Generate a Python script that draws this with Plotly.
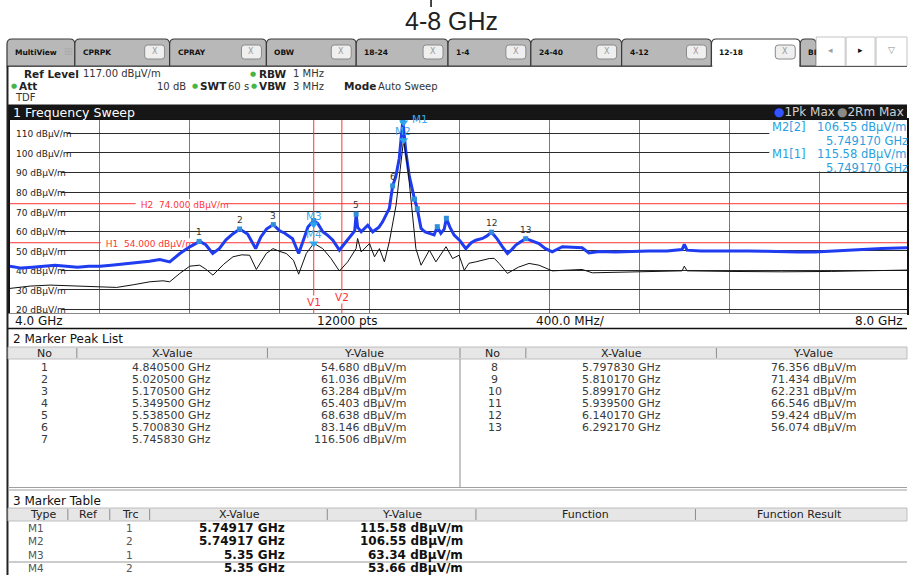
import plotly.graph_objects as go

W, H = 909, 575
FONT = "DejaVu Sans"

# ---------------- data ----------------
x_start, x_stop, x_div = 4.0, 8.0, 0.4
ref_level = 117.0
y_ticks = [20, 30, 40, 50, 60, 70, 80, 90, 100, 110]

pk_freq = [4.000, 4.050, 4.100, 4.150, 4.200, 4.250, 4.300, 4.350, 4.400, 4.450,
           4.500, 4.533, 4.580, 4.620, 4.666, 4.710, 4.755, 4.799, 4.843, 4.870,
           4.901, 4.930, 4.960, 4.990, 5.021, 5.056, 5.092, 5.115, 5.140, 5.170,
           5.200, 5.220, 5.256, 5.283, 5.309, 5.324, 5.350, 5.368, 5.390, 5.410,
           5.435, 5.464, 5.490, 5.516, 5.532, 5.5385, 5.545, 5.561, 5.590, 5.612,
           5.640, 5.656, 5.686, 5.70083, 5.715, 5.730, 5.74583, 5.760, 5.775, 5.79783,
           5.81017, 5.827, 5.845, 5.864, 5.885, 5.89917, 5.915, 5.930, 5.9395, 5.955,
           5.974, 6.000, 6.026, 6.050, 6.070, 6.100, 6.120, 6.14017, 6.165, 6.188,
           6.211, 6.230, 6.248, 6.270, 6.29217, 6.320, 6.351, 6.380, 6.410, 6.455,
           6.500, 6.543, 6.573, 6.620, 6.691, 6.760, 6.839, 6.920, 6.987, 6.997,
           7.009, 7.070, 7.135, 7.210, 7.283, 7.360, 7.430, 7.500, 7.578, 7.650,
           7.726, 7.800, 7.874, 7.987]
pk_val = [42.0, 41.0, 41.5, 42.0, 42.5, 42.0, 41.5, 42.0, 42.0, 42.5,
          43.0, 43.4, 44.0, 44.5, 45.4, 44.2, 48.5, 51.9, 54.7, 53.0,
          48.5, 51.0, 55.5, 58.5, 61.0, 58.5, 51.0, 57.0, 61.0, 63.3,
          60.0, 59.0, 56.0, 48.5, 57.0, 62.0, 65.4, 63.9, 59.6, 58.0,
          55.3, 50.2, 54.0, 57.9, 60.0, 68.6, 62.0, 59.6, 63.0, 59.6,
          62.0, 64.7, 71.6, 83.1, 88.0, 97.2, 116.5, 100.0, 88.0, 76.4,
          71.4, 61.3, 59.5, 58.8, 58.0, 62.2, 58.8, 61.0, 66.5, 62.0,
          57.9, 55.0, 51.0, 54.0, 55.3, 56.2, 57.5, 59.4, 56.0, 52.0,
          48.5, 50.5, 52.8, 54.5, 56.1, 55.0, 53.6, 51.0, 49.3, 52.0,
          51.5, 51.4, 48.8, 49.5, 49.3, 49.6, 49.8, 49.8, 50.5, 53.2,
          50.2, 49.8, 49.8, 50.0, 49.8, 49.6, 49.3, 49.2, 49.3, 49.8,
          50.2, 50.5, 51.0, 51.4]

rm_freq = [4.000, 4.090, 4.178, 4.300, 4.400, 4.474, 4.550, 4.622, 4.680, 4.710,
           4.755, 4.799, 4.843, 4.870, 4.902, 4.950, 4.991, 5.030, 5.065, 5.095,
           5.139, 5.169, 5.200, 5.228, 5.260, 5.283, 5.317, 5.350, 5.390, 5.427,
           5.464, 5.501, 5.538, 5.545, 5.561, 5.598, 5.620, 5.642, 5.664, 5.686,
           5.716, 5.738, 5.74917, 5.767, 5.789, 5.804, 5.827, 5.864, 5.893, 5.938,
           5.967, 5.996, 6.019, 6.040, 6.070, 6.100, 6.130, 6.152, 6.174, 6.211,
           6.260, 6.307, 6.351, 6.410, 6.480, 6.543, 6.588, 6.700, 6.839, 6.987,
           6.997, 7.009, 7.200, 7.430, 7.650, 7.889, 7.987]
rm_val = [30.6, 31.8, 32.3, 31.8, 31.4, 31.1, 32.5, 34.0, 34.5, 34.0,
          38.3, 42.0, 42.5, 40.5, 37.4, 43.0, 46.8, 47.8, 47.6, 40.3,
          48.5, 51.0, 49.5, 48.5, 45.0, 37.9, 48.5, 53.7, 51.0, 45.9,
          39.5, 44.2, 51.0, 56.2, 49.3, 53.6, 46.8, 51.0, 44.2, 54.5,
          73.3, 93.7, 106.55, 93.7, 68.1, 51.0, 42.5, 50.2, 44.2, 52.0,
          45.9, 47.6, 39.9, 43.5, 44.2, 45.0, 45.9, 46.0, 43.4, 38.3,
          41.5, 43.4, 42.5, 39.6, 40.0, 40.3, 38.6, 38.9, 39.1, 39.6,
          42.0, 39.6, 39.3, 39.1, 39.3, 40.0, 40.0]

peak_no = [1, 2, 3, 4, 5, 6, 7, 8, 9, 10, 11, 12, 13]
peak_freq = [4.840500, 5.020500, 5.170500, 5.349500, 5.538500, 5.700830, 5.745830,
             5.797830, 5.810170, 5.899170, 5.939500, 6.140170, 6.292170]
peak_val = [54.680, 61.036, 63.284, 65.403, 68.638, 83.146, 116.506,
            76.356, 71.434, 62.231, 66.546, 59.424, 56.074]
peak_label_shown = [1, 2, 3, 5, 6, 12, 13]

mk_name = ["M1", "M2", "M3", "M4"]
mk_trace = [1, 2, 1, 2]
mk_freq = [5.74917, 5.74917, 5.35, 5.35]
mk_val = [115.58, 106.55, 63.34, 53.66]

limit_names = ["H1", "H2"]
limit_vals = [54.0, 74.0]
vline_names = ["V1", "V2"]
vline_freqs = [5.35, 5.475]

tab_names = ["MultiView", "CPRPK", "CPRAY", "OBW", "18-24", "1-4", "24-40", "4-12", "12-18", "BI"]
active_tab = "12-18"

# ---------------- helpers ----------------
PX_PER_GHZ = 225.5
X0PX = 10.0


def X(p):
    return p / W


def Y(p):
    return 1 - p / H


def f_of_px(p):
    return x_start + (p - X0PX) / PX_PER_GHZ


shapes = []
ann = []


def rect(x0, y0, x1, y1, fill="rgba(0,0,0,0)", line="rgba(0,0,0,0)", lw=0):
    shapes.append(dict(type="rect", xref="paper", yref="paper", x0=X(x0), x1=X(x1),
                       y0=Y(y1), y1=Y(y0), fillcolor=fill,
                       line=dict(color=line, width=lw), layer="above"))


def seg(x0, y0, x1, y1, color, lw=1):
    shapes.append(dict(type="line", xref="paper", yref="paper", x0=X(x0), x1=X(x1),
                       y0=Y(y0), y1=Y(y1), line=dict(color=color, width=lw), layer="above"))


def rpath(xl, yt, xr, yb, r, fill, line, lw=1, bottom_round=False):
    if bottom_round:
        p = (f"M {X(xl)},{Y(yb - r)} L {X(xl)},{Y(yt + r)} Q {X(xl)},{Y(yt)} {X(xl + r)},{Y(yt)} "
             f"L {X(xr - r)},{Y(yt)} Q {X(xr)},{Y(yt)} {X(xr)},{Y(yt + r)} L {X(xr)},{Y(yb - r)} "
             f"Q {X(xr)},{Y(yb)} {X(xr - r)},{Y(yb)} L {X(xl + r)},{Y(yb)} Q {X(xl)},{Y(yb)} {X(xl)},{Y(yb - r)} Z")
    else:
        p = (f"M {X(xl)},{Y(yb)} L {X(xl)},{Y(yt + r)} Q {X(xl)},{Y(yt)} {X(xl + r)},{Y(yt)} "
             f"L {X(xr - r)},{Y(yt)} Q {X(xr)},{Y(yt)} {X(xr)},{Y(yt + r)} L {X(xr)},{Y(yb)} Z")
    shapes.append(dict(type="path", xref="paper", yref="paper", path=p, fillcolor=fill,
                       line=dict(color=line, width=lw), layer="above"))


def text(x, y, s, size=11, color="#222", anchor="left", bold=False, family=FONT):
    if bold:
        s = f"<b>{s}</b>"
    ann.append(dict(xref="paper", yref="paper", x=X(x), y=Y(y), text=s, showarrow=False,
                    xanchor=anchor, yanchor="middle", borderpad=0,
                    font=dict(family=family, size=size, color=color)))


# ---------------- figure ----------------
fig = go.Figure()
fig.add_trace(go.Scatter(x=pk_freq, y=pk_val, mode="lines",
                         line=dict(color="#1f3cf0", width=3), hoverinfo="skip"))
fig.add_trace(go.Scatter(x=rm_freq, y=rm_val, mode="lines",
                         line=dict(color="#111111", width=1), hoverinfo="skip"))
fig.add_trace(go.Scatter(x=peak_freq, y=peak_val, mode="markers", cliponaxis=False,
                         marker=dict(symbol="square", size=5, color="#2f8fd8"), hoverinfo="skip"))
fig.add_trace(go.Scatter(x=mk_freq, y=mk_val, mode="markers", cliponaxis=False,
                         marker=dict(symbol="triangle-down", size=8, color="#2aa5ee"), hoverinfo="skip"))

x_end = f_of_px(W)
x_grid = [round(x_start + x_div * k, 3) for k in range(11)]

# title
text(452, 21, "4-8 GHz", size=25, color="#222", anchor="center", family="Liberation Sans")
seg(432, 0, 432, 7, "#333", 1.8)

# tabs
edges = [7, 75, 170, 267, 357, 449, 532, 623, 713, 802, 818]
for i, name in enumerate(tab_names):
    xl, xr = edges[i], edges[i + 1]
    active = name == active_tab
    rpath(xl, 39, xr, 66, 5, "#ffffff" if active else "#b8b8b8", "#3a3a3a", 1.2)
    if active:
        seg(xl + 1, 66, xr - 1, 66, "#ffffff", 2)
    text(xl + 7, 52.5, name, size=7.5, color="#111", bold=True)
    if name == "MultiView":
        text(xl + 56, 52, "⊞", size=11, color="#aaaaaa")
    elif name != "BI":
        rpath(xr - 25, 45, xr - 5, 59, 3, "#efefef", "#8a8a8a", 1, bottom_round=True)
        text(xr - 15, 52, "X", size=8, color="#9a9a9a", anchor="center")
for (xl, xr, g, c) in [(818, 847, "◂", "#a0a0a0"), (848, 877, "▸", "#111"), (878, 909, "▽", "#8a8a8a")]:
    rect(xl, 37, xr, 66, fill="#ffffff", line="#c4c4c4", lw=1)
    text((xl + xr) / 2, 50, g, size=9, color=c, anchor="center")
seg(7, 66.5, 713, 66.5, "#555", 1)
seg(802, 66.5, 909, 66.5, "#555", 1)

# info header
GREEN = "#46b446"
HS = 10.5
HR = 10
text(23, 73.5, "Ref Level", size=HS, bold=True)
text(82, 73.5, f"{ref_level:.2f} dBμV/m", size=HR, color="#333")
text(250, 73.5, "●", size=7, color=GREEN)
text(259, 73.5, "RBW", size=HS, bold=True)
text(293, 73.5, "1 MHz", size=HR, color="#333")
text(10, 86, "●", size=7, color=GREEN)
text(18, 86, "Att", size=HS, bold=True)
text(187, 86, "10 dB", size=HR, color="#333", anchor="right")
text(191, 86, "●", size=7, color=GREEN)
text(199, 86, "SWT", size=HS, bold=True)
text(228, 86, "60 s", size=HR, color="#333")
text(250.5, 86, "●", size=7, color=GREEN)
text(259, 86, "VBW", size=HS, bold=True)
text(293, 86, "3 MHz", size=HR, color="#333")
text(344, 86, "Mode", size=HS, bold=True)
text(378, 86, "Auto Sweep", size=HR, color="#333")
text(14, 98, "TDF", size=10, color="#333")

# sweep window title bar
rect(8, 104.5, 909, 119.6, fill="#161616")
text(12, 112.5, "1 Frequency Sweep", size=12.5, color="#ffffff")
text(775, 112.5, "<span style='color:#3355ff'>●</span>1Pk Max", size=12, color="#cfcfcf")
text(838, 112.5, "<span style='color:#8a8a8a'>●</span>2Rm Max", size=12, color="#cfcfcf")

# y tick label masks with labels (under traces)
for v in y_ticks:
    right_px = 67 if v >= 100 else 61
    shapes.append(dict(type="rect", xref="x", yref="y", x0=x_start, x1=f_of_px(right_px),
                       y0=v - 2.2, y1=v + 2.2, fillcolor="#ffffff", line=dict(width=0),
                       layer="between",
                       label=dict(text=f"{v} dBμV/m", textposition="middle left", padding=3,
                                  font=dict(family=FONT, size=9, color="#222"))))

# limit lines
lab_px = {"H1": (101, 192), "H2": (136, 226)}
for nm, lv in zip(limit_names, limit_vals):
    shapes.append(dict(type="line", xref="x", yref="y", x0=x_start, x1=x_end, y0=lv, y1=lv,
                       line=dict(color="#ff3535", width=1), layer="between"))
    a, b = lab_px[nm]
    shapes.append(dict(type="rect", xref="x", yref="y", x0=f_of_px(a), x1=f_of_px(b),
                       y0=lv - 2.3, y1=lv + 2.3, fillcolor="#ffffff", line=dict(width=0),
                       layer="between",
                       label=dict(text=f"{nm}\u00a0 {lv:.3f} dBμV/m", textposition="middle left",
                                  padding=2, font=dict(family=FONT, size=9, color="#ff3535"))))

vlab_y = {"V1": 23.8, "V2": 26.4}
for nm, fv in zip(vline_names, vline_freqs):
    shapes.append(dict(type="line", xref="x", yref="y", x0=fv, x1=fv, y0=18, y1=ref_level + 0.1,
                       line=dict(color="#ff3535", width=1), layer="between"))
    ann.append(dict(xref="x", yref="y", x=fv, y=vlab_y[nm], text=nm, showarrow=False,
                    bgcolor="#ffffff", borderpad=0, yanchor="middle",
                    font=dict(family=FONT, size=10.5, color="#ff3535")))

# peak labels
for n, fv, vv in zip(peak_no, peak_freq, peak_val):
    if n in peak_label_shown:
        ann.append(dict(xref="x", yref="y", x=fv, y=vv, text=str(n), showarrow=False,
                        yshift=9, borderpad=0, font=dict(family=FONT, size=9, color="#333")))

# marker labels
mk_shift = {"M1": (16, 4), "M2": (-1, 9), "M3": (0, 9), "M4": (0, 9)}
for nm, fv, vv in zip(mk_name, mk_freq, mk_val):
    dx, dy = mk_shift[nm]
    ann.append(dict(xref="x", yref="y", x=fv, y=vv, text=nm, showarrow=False, xshift=dx,
                    yshift=dy, borderpad=0, font=dict(family=FONT, size=10.5, color="#3aa8ec")))

# marker info box (top right)
shapes.append(dict(type="rect", xref="x", yref="y", x0=f_of_px(771), x1=x_end, y0=90.5,
                   y1=ref_level + 0.1, fillcolor="#ffffff", line=dict(width=0), layer="between"))
BL = "#2a9fe0"
rows_box = []
for idx in [1, 0]:
    rows_box.append((f"{mk_name[idx]}[{mk_trace[idx]}]", f"{mk_val[idx]:.2f} dBμV/m"))
    rows_box.append(("", f"{mk_freq[idx]:.6f} GHz"))
for k, (a, b) in enumerate(rows_box):
    yy = 126.7 + k * 13.9
    if a:
        text(773, yy, a, size=11.5, color=BL)
        text(818, yy, b, size=11.5, color=BL)
    else:
        text(827, yy, b, size=11.5, color=BL)

# bottom axis bar of sweep window
rect(8, 313.5, 909, 328.5, fill="#ffffff")
text(14, 320.8, f"{x_start:.1f} GHz", size=12, color="#111")
text(348, 320.8, "12000 pts", size=12, color="#111", anchor="center")
text(572, 320.8, f"{x_div * 1000:.1f} MHz/", size=12, color="#111", anchor="center")
text(906, 320.8, f"{x_stop:.1f} GHz", size=12, color="#111", anchor="right")
seg(8, 328.5, 909, 328.5, "#111", 1.5)

# left border of the instrument panels
seg(7.5, 66, 7.5, 575, "#222", 2)

# ---------- Marker Peak List ----------
text(12, 339, "2 Marker Peak List", size=12, color="#111")
rect(8, 347, 909, 359, fill="#e6e6e6", line="#b0b0b0", lw=0.8)
for sx in [77, 268, 461, 527, 718]:
    seg(sx, 348, sx, 358, "#8c8c8c", 1)
seg(461, 359, 461, 488, "#8c8c8c", 1)
hdr = [(45, "No"), (173, "X-Value"), (365, "Y-Value"), (494, "No"), (623, "X-Value"), (815, "Y-Value")]
for hx, ht in hdr:
    text(hx, 353.3, ht, size=11, color="#222", anchor="center")
TC = "#3a3a3a"
for i, (n, fv, vv) in enumerate(zip(peak_no, peak_freq, peak_val)):
    col = 0 if i < 7 else 1
    r = i if i < 7 else i - 7
    yy = 367.5 + r * 12.05
    base = 0 if col == 0 else 451
    text(45 + base, yy, str(n), size=11, color=TC, anchor="center")
    text(172 + base, yy, f"{fv:.6f} GHz", size=11, color=TC, anchor="center")
    text(408 + base, yy, f"{vv:.3f} dBμV/m", size=11, color=TC, anchor="right")
seg(8, 487.5, 909, 487.5, "#a0a0a0", 1)
seg(8, 490, 909, 490, "#a0a0a0", 1)

# ---------- Marker Table ----------
text(12, 501, "3 Marker Table", size=12, color="#111")
rect(8, 508, 909, 521, fill="#e6e6e6", line="#b0b0b0", lw=0.8)
for sx in [68, 110, 150, 328, 477, 697]:
    seg(sx, 509, sx, 520, "#8c8c8c", 1)
hdr2 = [(43, "Type"), (89, "Ref"), (130, "Trc"), (240, "X-Value"), (403, "Y-Value"),
        (587, "Function"), (801, "Function Result")]
for hx, ht in hdr2:
    text(hx, 514.5, ht, size=11, color="#222", anchor="center")
row_y = [528, 541, 554.5, 568]
for i, (nm, tr, fv, vv) in enumerate(zip(mk_name, mk_trace, mk_freq, mk_val)):
    yy = row_y[i]
    text(36, yy, nm, size=10.5, color="#555", anchor="center")
    text(130, yy, str(tr), size=10.5, color="#555", anchor="center")
    text(287, yy, f"{fv:g} GHz", size=12, color="#111", anchor="right", bold=True)
    text(465, yy, f"{vv:.2f} dBμV/m", size=12, color="#111", anchor="right", bold=True)
seg(8, 562, 909, 562, "#9a9a9a", 1)

fig.update_layout(
    width=W, height=H, margin=dict(l=0, r=0, t=0, b=0),
    paper_bgcolor="#ffffff", plot_bgcolor="#ffffff", showlegend=False,
    xaxis=dict(domain=[X(X0PX), 1], range=[x_start, x_end], tickmode="array", tickvals=x_grid,
               showticklabels=False, ticks="", showgrid=True, gridcolor="#7a7a7a", gridwidth=1,
               zeroline=False, showline=True, linecolor="#111", linewidth=1.5, mirror=True),
    yaxis=dict(domain=[Y(313), Y(119.6)], range=[18, ref_level + 0.1], tickmode="array",
               tickvals=y_ticks, showticklabels=False, ticks="", showgrid=True,
               gridcolor="#2a2a2a", gridwidth=1, zeroline=False, showline=True,
               linecolor="#111", linewidth=1.5, mirror=True),
    shapes=shapes, annotations=ann,
)
fig.write_html("out.html", config={"displayModeBar": False},
               post_script="document.body.style.margin='0';document.body.style.overflow='hidden';")
